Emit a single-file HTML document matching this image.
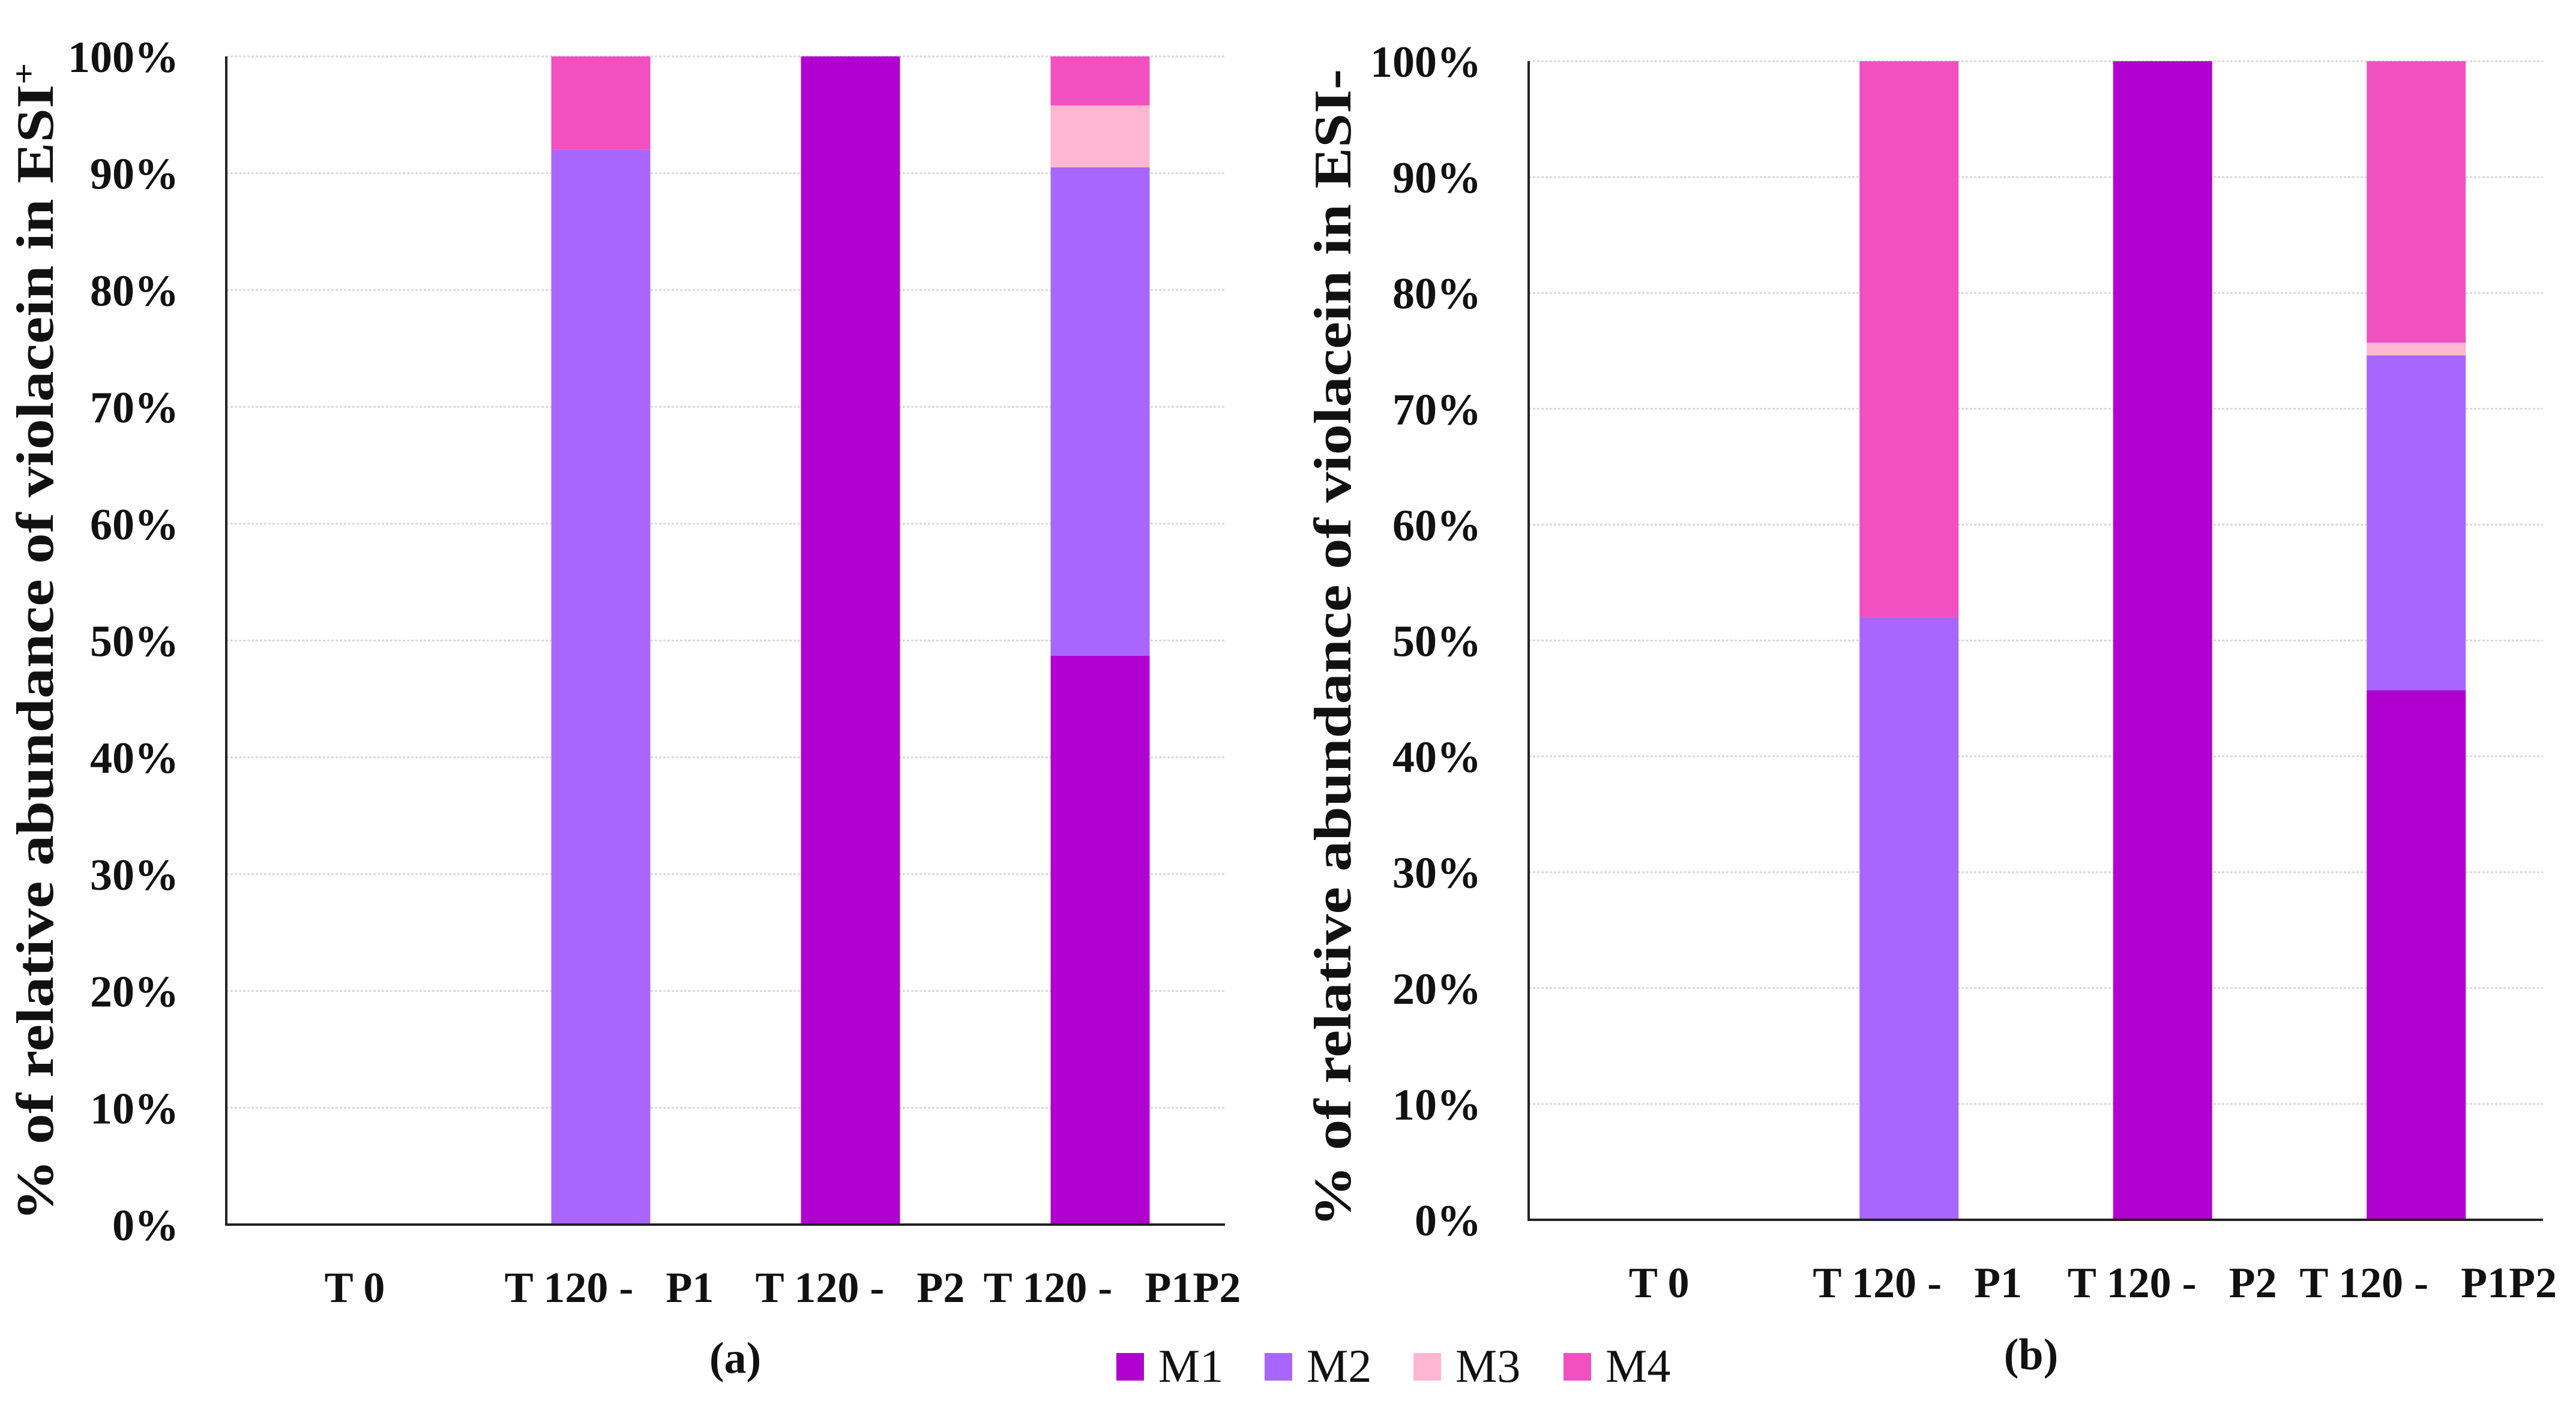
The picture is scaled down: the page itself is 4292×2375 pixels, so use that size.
<!DOCTYPE html>
<html><head><meta charset="utf-8"><style>
html,body{margin:0;padding:0;background:#fff;}
svg{display:block;font-family:"Liberation Serif",serif;font-weight:bold;}
</style></head><body>
<svg id="svg" width="4292" height="2375" viewBox="0 0 4292 2375" xmlns="http://www.w3.org/2000/svg">
<g id="legend"></g>
</svg>
<script>
const categories = ["T 0", "T 120 -   P1", "T 120 -   P2", "T 120 -   P1P2"];
const series = ["M1", "M2", "M3", "M4"];
const colors = ["#b000d0", "#a866ff", "#ffb6d0", "#f050c0"];
const yTicks = [0,10,20,30,40,50,60,70,80,90,100];
const aM1 = [0, 0, 100, 48.7];
const aM2 = [0, 92, 0, 41.8];
const aM3 = [0, 0, 0, 5.3];
const aM4 = [0, 8, 0, 4.2];
const bM1 = [0, 0, 100, 45.7];
const bM2 = [0, 52, 0, 28.9];
const bM3 = [0, 0, 0, 1.1];
const bM4 = [0, 48, 0, 24.3];

const NS = "http://www.w3.org/2000/svg";
const svg = document.getElementById('svg');
function mk(tag, attrs, parent){const e=document.createElementNS(NS,tag);for(const k in attrs)e.setAttribute(k,attrs[k]);(parent||svg).appendChild(e);return e;}

function drawChart(cfg, data, key){
  const g = mk('g',{});
  
  
  const {x0,x1,yTop,yBot} = cfg;
  const yS = v => yBot - (v/100)*(yBot-yTop);
  const cw = (x1-x0)/categories.length;
  const xC = i => x0 + cw*(i+0.5);
  yTicks.forEach(t=>{
    if(t>0){const l=mk('line',{x1:x0,x2:x1,y1:yS(t),y2:yS(t),stroke:'#d9d9d9','stroke-width':3,'stroke-dasharray':'4 3'},g);
    
    }
    const tx=mk('text',{x:cfg.tickX,y:yS(t)+26,'text-anchor':'end','font-size':74,fill:'#111'},g);
    tx.textContent=t+'%';
    
    
  });
  const bw = 165;
  categories.forEach((c,i)=>{
    let acc=0;
    data.forEach((arr,s)=>{
      const v=arr[i]; if(v<=0) return;
      const r=mk('rect',{x:xC(i)-bw/2,y:yS(acc+v),width:bw,height:yS(acc)-yS(acc+v),fill:colors[s]},g);
      
      
      acc+=v;
    });
    const lt=mk('text',{x:xC(i)+cfg.labelShift[i],y:cfg.labelY,'text-anchor':'middle','font-size':72,fill:'#111'},g);
    lt.style.whiteSpace='pre';
    lt.textContent=c;
    
    
  });
  const ax=mk('polyline',{points:`${x0},${yTop} ${x0},${yBot} ${x1},${yBot}`,fill:'none',stroke:'#222','stroke-width':4},g);
  
  
  const yc=cfg.titleYC;
  const tt=mk('text',{x:cfg.titleX,y:yc,'text-anchor':'middle','font-size':88,fill:'#111',textLength:1930,lengthAdjust:'spacingAndGlyphs',transform:`rotate(-90 ${cfg.titleX} ${yc})`},g);
  tt.innerHTML = cfg.title;
  
  
  const pl=mk('text',{x:cfg.panelX,y:cfg.panelY,'text-anchor':'middle','font-size':74,fill:'#111'},g);
  pl.textContent=cfg.panel;
  
  
}

drawChart({x0:377,x1:2041,yTop:94,yBot:2041,tickX:298,titleX:88,titleYC:1070,labelY:2170,labelShift:[6,14,16,20],
  title:'% of relative abundance of violacein in ESI<tspan dy="-30" font-size="54">+</tspan>',panel:'(a)',panelX:1225,panelY:2288},
  [aM1,aM2,aM3,aM4],'a');
drawChart({x0:2547,x1:4237,yTop:102,yBot:2033,tickX:2468,titleX:2250,titleYC:1080,labelY:2162,labelShift:[6,14,16,20],
  title:'% of relative abundance of violacein in ESI-',panel:'(b)',panelX:3384,panelY:2282},
  [bM1,bM2,bM3,bM4],'b');

const leg=document.getElementById('legend');
const lx=[1860,2107,2355,2605];
series.forEach((s,i)=>{
  const r=mk('rect',{x:lx[i],y:2255,width:46,height:46,fill:colors[i]},leg);
  
  
  const t=mk('text',{x:lx[i]+70,y:2303,'font-size':78,'font-weight':'normal',fill:'#111'},leg);
  t.textContent=s;
  
  
});
</script>
</body></html>
